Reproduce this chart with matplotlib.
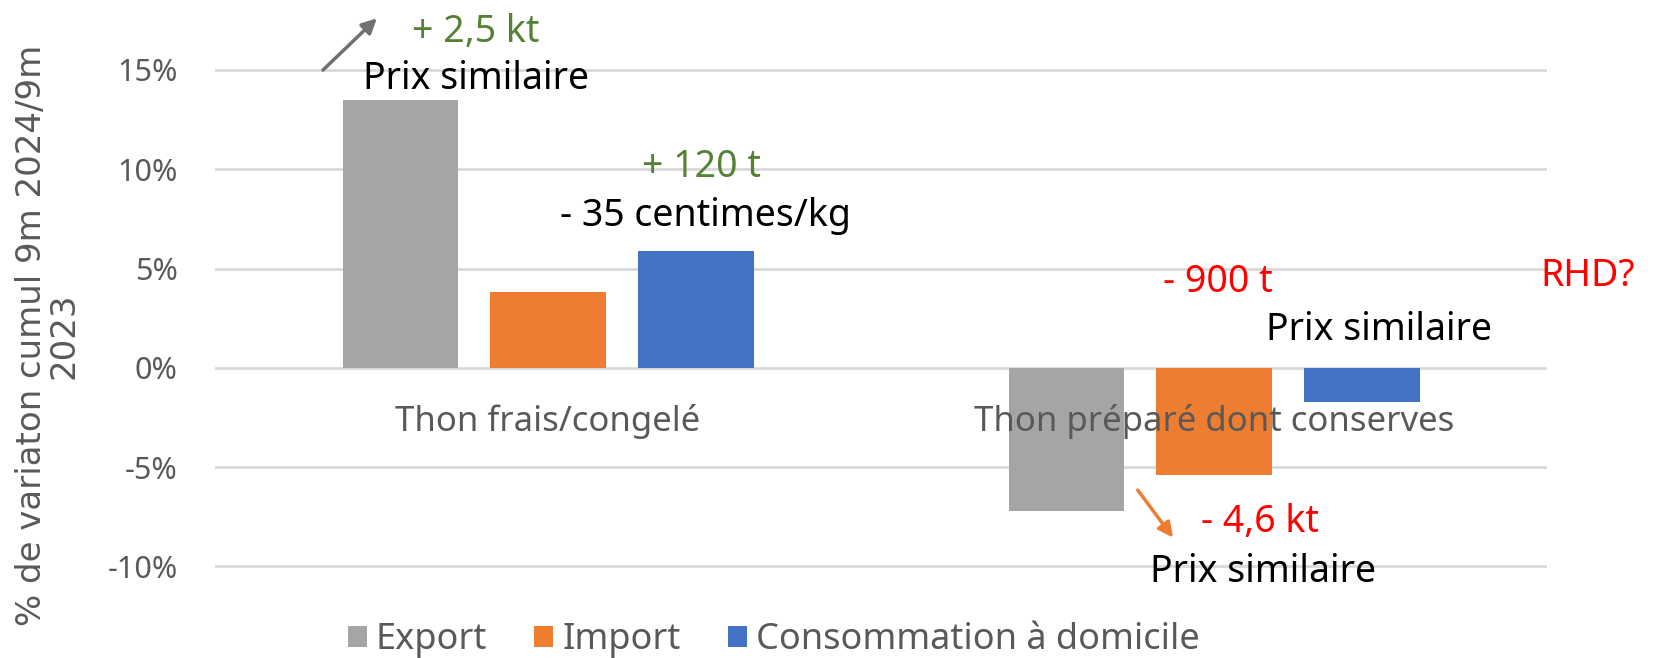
import matplotlib.pyplot as plt
import matplotlib as mpl
import numpy as np

# data
categories = ["Thon frais/congelé", "Thon préparé dont conserves"]
series = ["Export", "Import", "Consommation à domicile"]
export_vals = [13.5, -7.2]
import_vals = [3.8, -5.4]
conso_vals = [5.9, -1.7]
ytick_vals = [-10, -5, 0, 5, 10, 15]

colors = ["#a5a5a5", "#ed7d31", "#4472c4"]
GREEN = "#548235"
RED = "#ff0000"
GREY_TXT = "#595959"

mpl.rcParams["font.family"] = ["Noto Sans", "DejaVu Sans"]

fig = plt.figure(figsize=(16.53, 6.58), dpi=100)
ax = fig.add_axes([0.1301, 0.079, 0.8058, 0.875])

x = np.arange(len(categories))
width = 0.174
step = 0.2216
for i, (vals, name) in enumerate(zip([export_vals, import_vals, conso_vals], series)):
    ax.bar(x + (i - 1) * step, vals, width=width, color=colors[i], label=name, zorder=2)

ax.set_xlim(-0.5, 1.5)
ax.set_ylim(-12, 17)
ax.set_yticks(ytick_vals)
ax.set_yticklabels([f"{v}%" for v in ytick_vals], fontsize=22, color=GREY_TXT)
ax.tick_params(axis="y", length=0, pad=27)
ax.set_xticks([])
ax.grid(axis="y", color="#d9d9d9", linewidth=2, zorder=0)
for s in ax.spines.values():
    s.set_visible(False)

fig.text(0.029, 0.49, "% de variaton cumul 9m 2024/9m\n2023", rotation=90, ha="center", va="center",
         fontsize=24.5, color=GREY_TXT, family="DejaVu Sans", linespacing=1.0, multialignment="center")

# category labels
for xi, cat in zip(x, categories):
    ax.text(xi, -2.7, cat, ha="center", va="center", fontsize=25, color=GREY_TXT, zorder=3)

# annotations
fs = 27
ax.text(-0.108, 16.9, "+ 2,5 kt", ha="center", va="center", fontsize=fs, color=GREEN, clip_on=False)
ax.text(-0.108, 14.54, "Prix similaire", ha="center", va="center", fontsize=fs, color="black")
ax.annotate("", xy=(-0.254, 17.7), xytext=(-0.341, 14.9), annotation_clip=False,
            arrowprops=dict(arrowstyle="-|>", color="#707070", lw=2.5, mutation_scale=22))
ax.text(0.23, 10.1, "+ 120 t", ha="center", va="center", fontsize=fs, color=GREEN)
ax.text(0.237, 7.65, "- 35 centimes/kg", ha="center", va="center", fontsize=fs, color="black")
ax.text(1.005, 4.32, "- 900 t", ha="center", va="center", fontsize=fs, color=RED)
ax.text(1.248, 1.9, "Prix similaire", ha="center", va="center", fontsize=fs, color="black")
ax.text(1.49, 4.62, "RHD?", ha="left", va="center", fontsize=fs, color=RED, clip_on=False)
ax.annotate("", xy=(0.941, -8.67), xytext=(0.883, -6.05),
            arrowprops=dict(arrowstyle="-|>", color="#ed7d31", lw=2.5, mutation_scale=22))
ax.text(1.069, -7.77, "- 4,6 kt", ha="center", va="center", fontsize=fs, color=RED)
ax.text(1.074, -10.3, "Prix similaire", ha="center", va="center", fontsize=fs, color="black")

fig.legend(loc="center", bbox_to_anchor=(0.468, 0.027), ncol=3, frameon=False,
           fontsize=26, labelcolor=GREY_TXT, handlelength=0.53, handleheight=0.53,
           handletextpad=0.25, columnspacing=1.3)

fig.savefig("out.png", dpi=100)
